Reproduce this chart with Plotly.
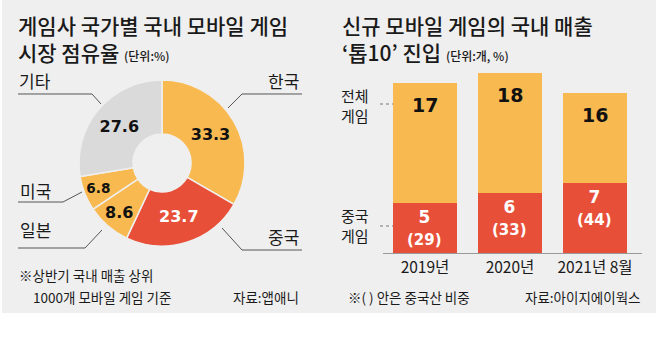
import plotly.graph_objects as go

W, H = 658, 337

# ---- data ----
pie_labels = ["한국", "중국", "일본", "미국", "기타"]
pie_values = [33.3, 23.7, 8.6, 6.8, 27.6]
pie_colors = ["#F8BA50", "#E84F39", "#F8BA50", "#F8BA50", "#DADADA"]
pie_text_colors = ["#111111", "#FFFFFF", "#111111", "#111111", "#111111"]

years = ["2019년", "2020년", "2021년 8월"]
total_games = [17, 18, 16]
china_games = [5, 6, 7]
china_share = [29, 33, 44]

YELLOW = "#F8BA50"
RED = "#E84F39"
BG = "#EFEFEF"
KR = "Noto Sans CJK KR"
NUM = "DejaVu Sans"


def px(x):
    return x / W


def py(y):
    return 1 - y / H


other_games = [t - c for t, c in zip(total_games, china_games)]

fig = go.Figure()

# pie
fig.add_trace(go.Pie(
    labels=pie_labels, values=pie_values, sort=False, direction="clockwise",
    rotation=0, hole=0.35,
    marker=dict(colors=pie_colors, line=dict(color=BG, width=1.5)),
    texttemplate="<b>%{value}</b>", textposition="inside",
    insidetextorientation="horizontal",
    textfont=dict(family=NUM, size=16, color=pie_text_colors),
    domain=dict(x=[px(79), px(245)], y=[py(246), py(80)]),
    showlegend=False, hoverinfo="label+value",
))

# bars
fig.add_trace(go.Bar(x=years, y=china_games, marker=dict(color=RED, line=dict(width=0)),
                     showlegend=False, xaxis="x", yaxis="y"))
fig.add_trace(go.Bar(x=years, y=other_games, marker=dict(color=YELLOW, line=dict(width=0)),
                     showlegend=False, xaxis="x", yaxis="y"))

annotations = []
for yr, t in zip(years, total_games):
    annotations.append(dict(x=yr, y=t, xref="x", yref="y", text=f"<b>{t}</b>",
                            showarrow=False, yanchor="top", yshift=-9,
                            font=dict(family=NUM, size=19, color="#111111")))
for yr, c, s in zip(years, china_games, china_share):
    annotations.append(dict(x=yr, y=c, xref="x", yref="y",
                            text=f"<b>{c}</b><br><span style='font-size:15px'><b>({s})</b></span>",
                            showarrow=False, yanchor="top", yshift=-2,
                            font=dict(family=NUM, size=17, color="#FFFFFF")))


def txt(x, y, text, size, anchor="left", color="#1a1a1a", family=KR, weight=None, yanchor="middle"):
    f = dict(family=family, size=size, color=color)
    if weight:
        f["weight"] = weight
    annotations.append(dict(x=px(x), y=py(y), xref="paper", yref="paper", text=text,
                            showarrow=False, xanchor=anchor, yanchor=yanchor,
                            font=f, align="left"))


# titles (two lines each, one text block)
txt(16, 38, "게임사 국가별 국내 모바일 게임<br>시장 점유율 <span style='font-size:12px'>(단위:%)</span>",
    21, weight=500)
txt(340, 38, "신규 모바일 게임의 국내 매출<br>‘톱10’ 진입 <span style='font-size:12px'>(단위:개, %)</span>",
    21, weight=500)

# pie outer labels
txt(283, 81, "한국", 17, anchor="center")
txt(35, 81, "기타", 17, anchor="center")
txt(35, 190, "미국", 17, anchor="center")
txt(35, 229, "일본", 17, anchor="center")
txt(283, 236, "중국", 17, anchor="center")

# bar side labels
txt(355, 105, "전체<br>게임", 15, anchor="center")
txt(355, 226, "중국<br>게임", 15, anchor="center")

# footnotes
txt(17, 275, "※상반기 국내 매출 상위", 13.5)
txt(31, 297, "1000개 모바일 게임 기준", 13.5)
txt(301, 297, "자료:앱애니", 13.5, anchor="right")
txt(346, 297, "※( ) 안은 중국산 비중", 13.5)
txt(643, 297, "자료:아이지에이웍스", 13.5, anchor="right")

shapes = [dict(type="rect", xref="paper", yref="paper", x0=px(2), x1=px(656), y0=py(313), y1=py(0),
               fillcolor=BG, line=dict(width=0), layer="below")]


def path(points, dash="solid", color="#555555"):
    d = "M " + " L ".join(f"{px(a):.5f},{py(b):.5f}" for a, b in points)
    shapes.append(dict(type="path", xref="paper", yref="paper", path=d,
                       line=dict(color=color, width=1, dash=dash)))


path([(228, 108), (242, 94), (302, 94)])
path([(18, 94), (92, 94), (101, 104)])
path([(18, 202), (63, 202), (82, 192)])
path([(18, 248), (85, 248), (102, 230)])
path([(222, 228), (242, 250), (302, 250)])
path([(380, 104), (393, 104)], dash="dot", color="#777777")
path([(380, 226), (393, 226)], dash="dot", color="#777777")

fig.update_layout(
    width=W, height=H, margin=dict(l=0, r=0, t=0, b=0),
    paper_bgcolor="white", plot_bgcolor="rgba(0,0,0,0)",
    barmode="stack", bargap=0.247,
    xaxis=dict(domain=[px(383), px(642)], range=[-0.494, 2.553], type="category",
               showline=True, linecolor="#999999", linewidth=1, ticks="",
               tickfont=dict(family=KR, size=15.5, color="#1a1a1a"), showgrid=False,
               zeroline=False, fixedrange=True),
    yaxis=dict(domain=[py(253), py(53)], range=[0, 20], visible=False, fixedrange=True),
    annotations=annotations, shapes=shapes,
)

fig.write_html("out.html")
